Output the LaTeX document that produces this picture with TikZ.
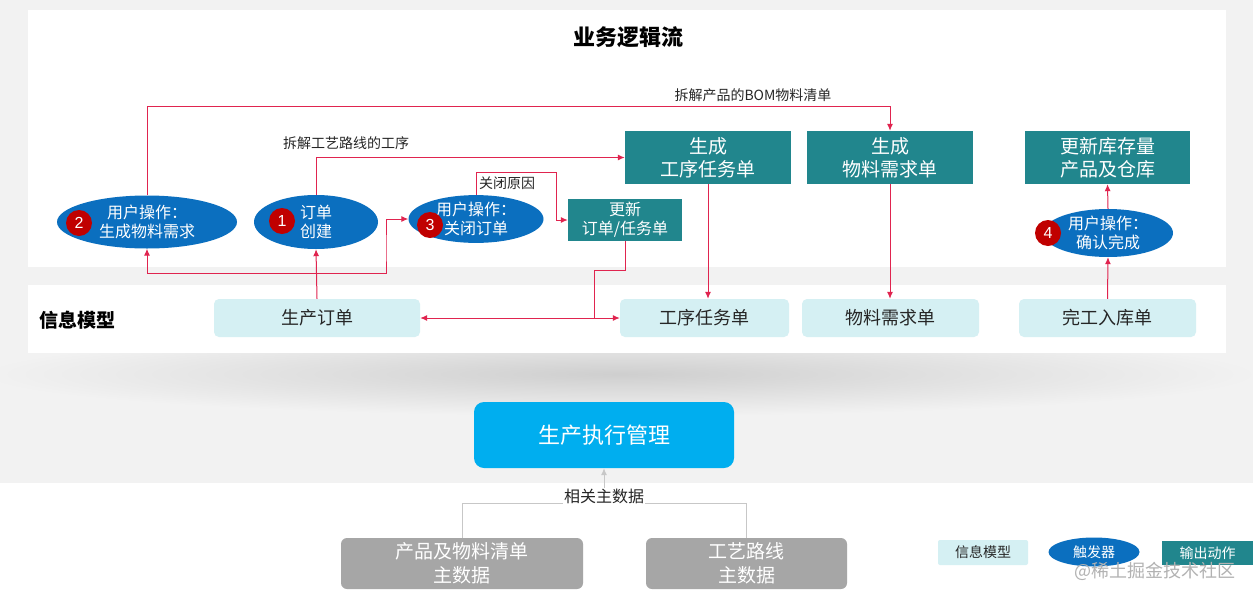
\documentclass[tikz,border=0pt]{standalone}
\usepackage{fontspec}
\setmainfont{Noto Sans CJK SC}
\newfontfamily\numfont{Liberation Sans}
\usetikzlibrary{shapes.geometric,arrows.meta}
\definecolor{bggray}{HTML}{F2F2F2}
\definecolor{trigblue}{HTML}{0B6FBF}
\definecolor{actteal}{HTML}{21868D}
\definecolor{infocyan}{HTML}{D5F0F3}
\definecolor{flowred}{HTML}{E0244F}
\definecolor{numred}{HTML}{C00000}
\definecolor{execblue}{HTML}{00AEEF}
\definecolor{mastergray}{HTML}{A6A6A6}

\begin{document}
\begin{tikzpicture}[x=1pt,y=-1pt,>={Latex[length=7pt,width=6pt]},
	trig/.style={shape=ellipse,fill=trigblue,text=white,inner sep=0pt,align=center,font=\fontsize{16}{19}\selectfont},
	act/.style={shape=rectangle,fill=actteal,text=white,inner sep=0pt,align=center,font=\fontsize{19}{23}\selectfont},
	info/.style={shape=rectangle,rounded corners=5pt,fill=infocyan,text=black!85,inner sep=0pt,font=\fontsize{18}{22}\selectfont},
	num/.style={shape=circle,fill=numred,text=white,inner sep=0pt,minimum size=26pt,font=\numfont\fontsize{16}{16}\selectfont},
	lbl/.style={shape=rectangle,inner sep=1pt,text=black!85,font=\fontsize{14}{16}\selectfont},
	master/.style={shape=rectangle,rounded corners=6pt,fill=mastergray,text=white,inner sep=0pt,align=center,font=\fontsize{19}{24}\selectfont},
	rl/.style={draw=flowred,line width=1pt},
	gl/.style={draw=black!22,line width=1pt}]
	\useasboundingbox (0,0) rectangle (1253,600);
	\fill[bggray] (0,0) rectangle (1253,483);
	\shade[inner color=black!19,outer color=bggray] (620,374) ellipse [x radius=640,y radius=42];
	\fill[white] (28,10) rectangle (1226,267);
	\fill[white] (28,285) rectangle (1226,353);
	\fill[white] (0,483) rectangle (1253,600);

	\node[font=\bfseries\fontsize{22}{26}\selectfont](ti) at (628,37) {业务逻辑流};
	\node[trig,minimum width=180pt,minimum height=53pt](e2) at (147,222) {用户操作：\\生成物料需求};
	\node[trig,minimum width=124pt,minimum height=54pt](e1) at (316,222) {订单\\创建};
	\node[trig,minimum width=135pt,minimum height=47pt](e3) at (476,219) {用户操作：\\关闭订单};
	\node[trig,minimum width=130pt,minimum height=45pt](e4) at (1108,233) {用户操作：\\确认完成};
	\node[num](n2) at (79,223) {2};
	\node[num](n1) at (282,221) {1};
	\node[num](n3) at (430,225) {3};
	\node[num](n4) at (1048,233) {4};
	\node[act,minimum width=114pt,minimum height=42pt,font=\fontsize{16}{19}\selectfont](u) at (625,220) {更新\\订单/任务单};
	\node[act,minimum width=166pt,minimum height=53pt](g1) at (708,157.5) {生成\\工序任务单};
	\node[act,minimum width=166pt,minimum height=53pt](g2) at (890,157.5) {生成\\物料需求单};
	\node[act,minimum width=165pt,minimum height=53pt](g3) at (1107.5,157.5) {更新库存量\\产品及仓库};
	\node[lbl](l1) at (346,143) {拆解工艺路线的工序};
	\node[lbl](l2) at (753,95) {拆解产品的BOM物料清单};
	\node[lbl](l3) at (507,183) {关闭原因};

	\node[font=\bfseries\fontsize{19}{22}\selectfont](im) at (77,320) {信息模型};
	\node[info,minimum width=206pt,minimum height=38pt](p) at (317,318) {生产订单};
	\node[info,minimum width=169pt,minimum height=38pt](t1) at (704.5,318) {工序任务单};
	\node[info,minimum width=177pt,minimum height=38pt](t2) at (890.5,318) {物料需求单};
	\node[info,minimum width=177pt,minimum height=38pt](t3) at (1107.5,318) {完工入库单};

	\draw[rl,->] (e2.north) -- (e2.north |- 0,106) -| (g2.north);
	\draw[rl,->] (e1.north) |- (g1.west);
	\draw[rl,->] (e3.north) |- (556,172) |- (u.west);
	\draw[rl,->] (p.north) -- (e1.south);
	\draw[rl,->] (p.north |- 0,273) -| (e2.south);
	\draw[rl,->] (p.north |- 0,273) -| (386,250) |- (e3.west);
	\draw[rl] (u.south) |- (594,270) -- (594,318);
	\draw[rl,<->] (p.east) -- (t1.west);
	\draw[rl,->] (g1.south) -- (g1.south |- t1.north);
	\draw[rl,->] (g2.south) -- (g2.south |- t2.north);
	\draw[rl,->] (t3.north) -- (e4.south);
	\draw[rl,->] (e4.north) -- (g3.south);

	\node[shape=rectangle,rounded corners=10pt,fill=execblue,text=white,minimum width=260pt,minimum height=66pt,font=\fontsize{22}{26}\selectfont](pe) at (604,435) {生产执行管理};
	\node[master,minimum width=242pt,minimum height=51pt](b1) at (462,563.5) {产品及物料清单\\主数据};
	\node[master,minimum width=201pt,minimum height=51pt](b2) at (746.5,563.5) {工艺路线\\主数据};
	\draw[gl] (b1.north) -- (b1.north |- 0,503) -| (b2.north);
	\draw[gl,->] (pe.south |- 0,503) -- (pe.south);
	\node[lbl,fill=white,font=\fontsize{16}{18}\selectfont](md) at (604,496) {相关主数据};

	\node[info,minimum width=90pt,minimum height=25pt,rounded corners=2pt,font=\fontsize{14}{16}\selectfont](la) at (983,552.5) {信息模型};
	\node[trig,minimum width=91pt,minimum height=29pt,font=\fontsize{14}{16}\selectfont](lb) at (1094,552) {触发器};
	\node[act,minimum width=91pt,minimum height=24pt,font=\fontsize{14}{16}\selectfont](lc) at (1207.5,553) {输出动作};
	\node[text=black!30,font=\fontsize{18}{20}\selectfont](wm) at (1155,571) {@稀土掘金技术社区};
\end{tikzpicture}
\end{document}
